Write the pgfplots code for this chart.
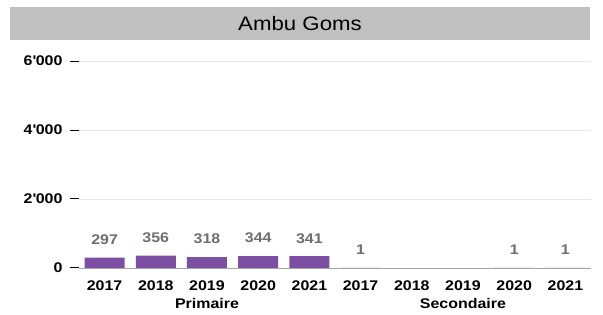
\documentclass[border=0pt]{standalone}
\usepackage{pgfplots}
\pgfplotsset{compat=1.18}
\usepackage{fontspec}
\setmainfont{Liberation Sans}[FakeStretch=1.14]
\definecolor{barpurple}{HTML}{7C4FA3}
\definecolor{titlegray}{HTML}{C0C0C0}
\definecolor{lblgray}{HTML}{6E6E6E}
\begin{document}
\begin{tikzpicture}[x=1pt,y=1pt]
\useasboundingbox[fill=white] (0,0) rectangle (603,315);
\fill[titlegray] (10,275) rectangle (590,308);
\node[font=\fontsize{19.5}{22}\selectfont] at (300,291.5) {Ambu Goms};
\begin{axis}[
  at={(79pt,47pt)}, anchor=south west,
  scale only axis, width=512pt, height=207pt,
  xmin=-0.5, xmax=9.5, ymin=0, ymax=6000,
  axis x line*=bottom, axis y line*=left,
  y axis line style={draw=none},
  x axis line style={draw=gray!70, line width=0.8pt},
  xtick={0,...,9},
  xticklabels={2017,2018,2019,2020,2021,2017,2018,2019,2020,2021},
  ytick={0,2000,4000,6000},
  yticklabels={0,2\textquotesingle000,4\textquotesingle000,6\textquotesingle000},
  /pgf/number format/assume math mode=true,
  xtick style={draw=none},
  ytick style={draw=black, line width=1pt},
  tick align=outside, major tick length=9pt,
  ymajorgrids, grid style={draw=black!10, line width=0.6pt},
  ticklabel style={font=\fontsize{14}{16}\selectfont\bfseries},
  yticklabel style={xshift=-4pt},
  xticklabel style={yshift=-0.5pt},
  clip=false,
]
\addplot[ybar, bar width=40pt, fill=barpurple, draw=none,
  nodes near coords, nodes near coords align={center},
  every node near coord/.append style={font=\fontsize{14}{16}\selectfont\bfseries, text=lblgray, yshift=18pt}]
  coordinates {(0,297) (1,356) (2,318) (3,344) (4,341) (5,1) (8,1) (9,1)};
\node[font=\fontsize{14}{16}\selectfont\bfseries] at (axis cs:2,0) [yshift=-36pt] {Primaire};
\node[font=\fontsize{14}{16}\selectfont\bfseries] at (axis cs:7,0) [yshift=-36pt] {Secondaire};
\end{axis}
\end{tikzpicture}
\end{document}
